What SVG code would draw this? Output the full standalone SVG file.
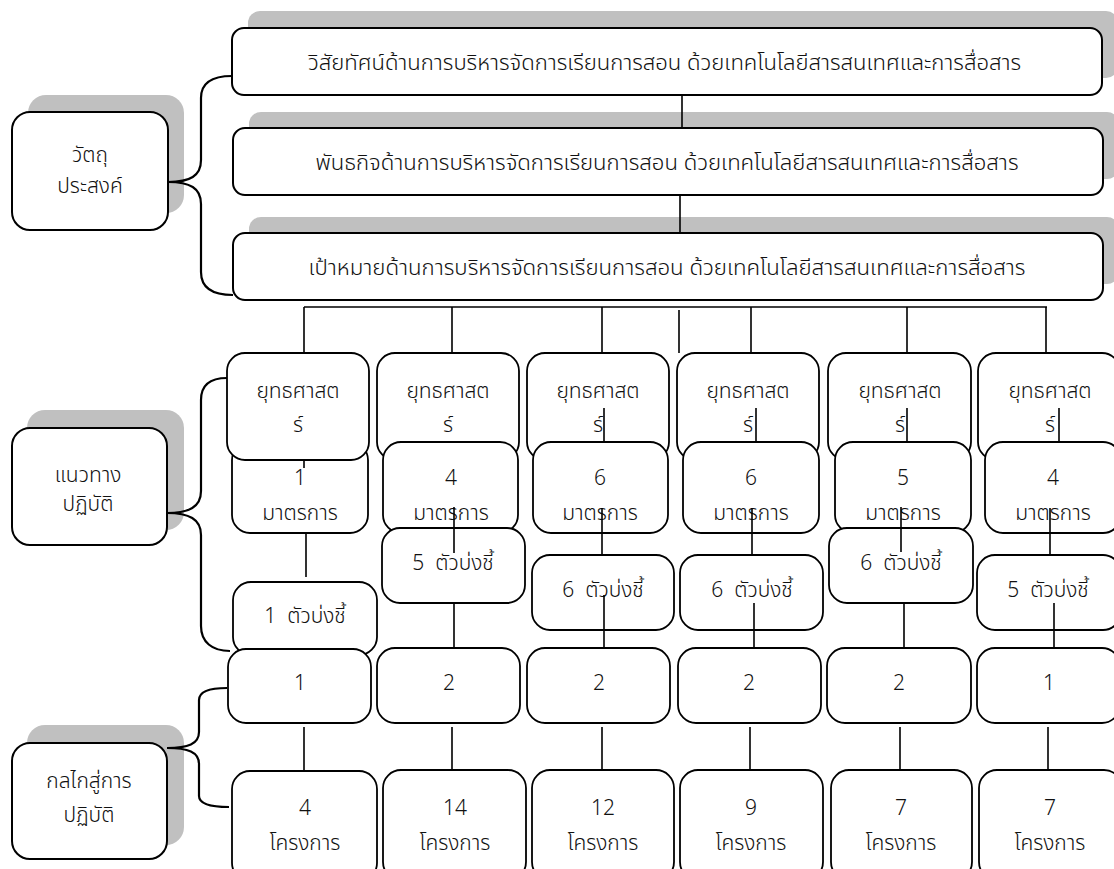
<svg xmlns="http://www.w3.org/2000/svg" width="1114" height="869" viewBox="0 0 1114 869">
<style>
text{font-family:"Noto Sans Thai","Noto Sans","DejaVu Sans",sans-serif;font-size:21px;font-weight:300;fill:#111;text-anchor:middle}
.sh{fill:#c0c0c0}
.big{fill:#fff;stroke:#000;stroke-width:2}
.box{fill:#fff;stroke:#000;stroke-width:1.8}
.ln{stroke:#000;stroke-width:1.6;fill:none}
.br{stroke:#000;stroke-width:2.2;fill:none}
</style>
<rect width="1114" height="869" fill="#fff"/>
<g id="objective">
<rect class="sh" x="28" y="95" width="156" height="118" rx="18"/>
<rect class="big" x="12" y="112" width="156" height="118" rx="18"/>
<text x="90" y="162">วัตถุ</text>
<text x="90" y="193">ประสงค์</text>
</g>
<g id="vision">
<rect class="sh" x="248" y="11" width="870" height="67" rx="12"/>
<rect class="big" x="232" y="28" width="870" height="67" rx="12"/>
<text x="664.5" y="70" textLength="713" lengthAdjust="spacingAndGlyphs">วิสัยทัศน์ด้านการบริหารจัดการเรียนการสอน ด้วยเทคโนโลยีสารสนเทศและการสื่อสาร</text>
</g>
<g id="mission">
<rect class="sh" x="249" y="112" width="870" height="67" rx="12"/>
<rect class="big" x="233" y="128" width="870" height="67" rx="12"/>
<text x="667" y="170" textLength="703" lengthAdjust="spacingAndGlyphs">พันธกิจด้านการบริหารจัดการเรียนการสอน ด้วยเทคโนโลยีสารสนเทศและการสื่อสาร</text>
</g>
<g id="goal">
<rect class="sh" x="249" y="217" width="870" height="67" rx="12"/>
<rect class="big" x="233" y="233" width="870" height="67" rx="12"/>
<text x="667" y="275" textLength="717" lengthAdjust="spacingAndGlyphs">เป้าหมายด้านการบริหารจัดการเรียนการสอน ด้วยเทคโนโลยีสารสนเทศและการสื่อสาร</text>
</g>
<g id="guideline">
<rect class="sh" x="27" y="410" width="157" height="120" rx="18"/>
<rect class="big" x="12" y="428" width="155" height="117" rx="18"/>
<text x="88" y="482">แนวทาง</text>
<text x="88" y="511">ปฏิบัติ</text>
</g>
<g id="mechanism">
<rect class="sh" x="27" y="725" width="157" height="120" rx="18"/>
<rect class="big" x="12" y="743" width="155" height="116" rx="18"/>
<text x="89" y="788">กลไกสู่การ</text>
<text x="89" y="822">ปฏิบัติ</text>
</g>

<g id="measure1">
<rect class="box" x="232" y="442" width="136" height="91" rx="18"/>
<text x="300" y="485">1</text>
<text x="300" y="520">มาตรการ</text>
</g>
<g id="strategy1">
<rect class="box" x="227" y="353" width="142" height="107" rx="18"/>
<text x="298" y="398">ยุทธศาสต</text>
<text x="298" y="432">ร์</text>
</g>
<g id="indicator1">
<rect class="box" x="233" y="582" width="144" height="73" rx="18"/>
<text x="305" y="623" xml:space="preserve">1  ตัวบ่งชี้</text>
</g>
<g id="mech1">
<rect class="box" x="228" y="649" width="143" height="74" rx="18"/>
<text x="300" y="690">1</text>
</g>
<g id="project1">
<rect class="box" x="232" y="771" width="145" height="110" rx="18"/>
<text x="305" y="815">4</text>
<text x="305" y="850">โครงการ</text>
</g>

<g id="strategy2">
<rect class="box" x="377" y="353" width="142" height="107" rx="18"/>
<text x="448" y="398">ยุทธศาสต</text>
<text x="448" y="432">ร์</text>
</g>
<g id="measure2">
<rect class="box" x="383" y="442" width="135" height="91" rx="18"/>
<text x="451" y="485">4</text>
<text x="451" y="520">มาตรการ</text>
</g>
<g id="indicator2">
<rect class="box" x="382" y="528" width="143" height="75" rx="18"/>
<text x="453" y="570" xml:space="preserve">5  ตัวบ่งชี้</text>
</g>
<g id="mech2">
<rect class="box" x="377" y="648" width="143" height="75" rx="18"/>
<text x="449" y="690">2</text>
</g>
<g id="project2">
<rect class="box" x="383" y="770" width="143" height="110" rx="18"/>
<text x="455" y="815">14</text>
<text x="455" y="850">โครงการ</text>
</g>

<g id="strategy3">
<rect class="box" x="527" y="353" width="142" height="107" rx="18"/>
<text x="598" y="398">ยุทธศาสต</text>
<text x="598" y="432">ร์</text>
</g>
<g id="measure3">
<rect class="box" x="533" y="442" width="135" height="91" rx="18"/>
<text x="600" y="485">6</text>
<text x="600" y="520">มาตรการ</text>
</g>
<g id="indicator3">
<rect class="box" x="532" y="555" width="142" height="75" rx="18"/>
<text x="603" y="597" xml:space="preserve">6  ตัวบ่งชี้</text>
</g>
<g id="mech3">
<rect class="box" x="527" y="648" width="143" height="75" rx="18"/>
<text x="599" y="690">2</text>
</g>
<g id="project3">
<rect class="box" x="532" y="770" width="142" height="110" rx="18"/>
<text x="603" y="815">12</text>
<text x="603" y="850">โครงการ</text>
</g>

<g id="strategy4">
<rect class="box" x="677" y="353" width="142" height="107" rx="18"/>
<text x="748" y="398">ยุทธศาสต</text>
<text x="748" y="432">ร์</text>
</g>
<g id="measure4">
<rect class="box" x="683" y="442" width="136" height="91" rx="18"/>
<text x="751" y="485">6</text>
<text x="751" y="520">มาตรการ</text>
</g>
<g id="indicator4">
<rect class="box" x="680" y="555" width="143" height="75" rx="18"/>
<text x="752" y="597" xml:space="preserve">6  ตัวบ่งชี้</text>
</g>
<g id="mech4">
<rect class="box" x="678" y="648" width="143" height="75" rx="18"/>
<text x="749" y="690">2</text>
</g>
<g id="project4">
<rect class="box" x="680" y="770" width="143" height="110" rx="18"/>
<text x="751" y="815">9</text>
<text x="751" y="850">โครงการ</text>
</g>

<g id="strategy5">
<rect class="box" x="828" y="353" width="143" height="107" rx="18"/>
<text x="900" y="398">ยุทธศาสต</text>
<text x="900" y="432">ร์</text>
</g>
<g id="measure5">
<rect class="box" x="835" y="442" width="136" height="91" rx="18"/>
<text x="903" y="485">5</text>
<text x="903" y="520">มาตรการ</text>
</g>
<g id="indicator5">
<rect class="box" x="829" y="528" width="144" height="75" rx="18"/>
<text x="901" y="570" xml:space="preserve">6  ตัวบ่งชี้</text>
</g>
<g id="mech5">
<rect class="box" x="827" y="648" width="144" height="75" rx="18"/>
<text x="899" y="690">2</text>
</g>
<g id="project5">
<rect class="box" x="831" y="770" width="141" height="110" rx="18"/>
<text x="901" y="815">7</text>
<text x="901" y="850">โครงการ</text>
</g>

<g id="strategy6">
<rect class="box" x="978" y="353" width="142" height="107" rx="18"/>
<text x="1050" y="398">ยุทธศาสต</text>
<text x="1050" y="432">ร์</text>
</g>
<g id="measure6">
<rect class="box" x="985" y="442" width="136" height="91" rx="18"/>
<text x="1053" y="485">4</text>
<text x="1053" y="520">มาตรการ</text>
</g>
<g id="indicator6">
<rect class="box" x="977" y="555" width="144" height="75" rx="18"/>
<text x="1048" y="597" xml:space="preserve">5  ตัวบ่งชี้</text>
</g>
<g id="mech6">
<rect class="box" x="977" y="648" width="143" height="75" rx="18"/>
<text x="1049" y="690">1</text>
</g>
<g id="project6">
<rect class="box" x="979" y="770" width="143" height="110" rx="18"/>
<text x="1050" y="815">7</text>
<text x="1050" y="850">โครงการ</text>
</g>

<g id="connectors">
<path class="br" d="M168,182 C190,182 201,176 201,160 L201,98 C201,83 212,76 232,76"/>
<path class="br" d="M168,182 C190,182 201,188 201,204 L201,272 C201,288 212,295 233,295"/>
<path class="br" d="M167,513 C189,513 201,507 201,491 L201,400 C201,385 210,378 227,378"/>
<path class="br" d="M167,513 C189,513 201,519 201,535 L201,626 C201,642 212,651 230,651"/>
<path class="br" d="M167,748 C188,748 199,744 199,732 L199,700 C199,692 208,688 227,688"/>
<path class="br" d="M167,748 C188,748 199,752 199,764 L199,796 C199,803 208,807 229,807"/>
<path class="ln" d="M682,95V128M680,195V233"/>
<path class="ln" d="M304,307H1047"/>
<path class="ln" d="M304,307V353M452,307V353M602,307V353M751,307V353M907,307V353M1046,307V353M679,310V353"/>
<path class="ln" d="M304,460V468M604,408V442M756,408V442M907,408V442M1059,408V442"/>
<path class="ln" d="M306,533V577M454,507V553M602,508V555M752,508V555M901,507V552M1050,508V555"/>
<path class="ln" d="M454,603V648M604,595V648M754,603V648M904,603V648M1054,603V648"/>
<path class="ln" d="M304,727V770M452,727V770M602,727V770M750,727V770M900,727V770M1048,727V770"/>
</g>
</svg>
